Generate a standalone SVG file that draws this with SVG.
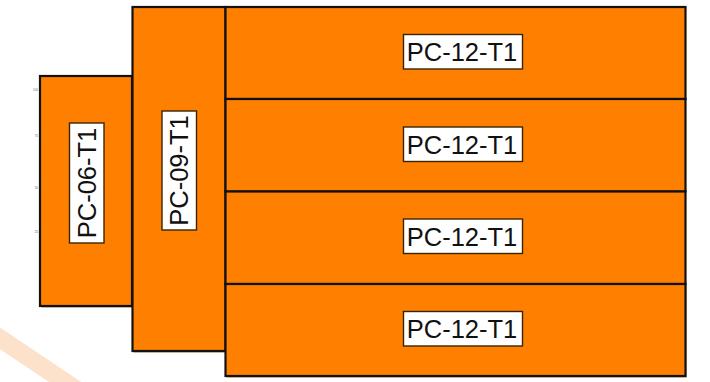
<svg xmlns="http://www.w3.org/2000/svg" width="710" height="382" viewBox="0 0 710 382">
<style>
.blk{fill:#ff8000;stroke:#111;stroke-width:2.2}
.sh{fill:#7a4300;opacity:0.6}
.lb{fill:#fff;stroke:#3a2400;stroke-width:1.4}
.tx{font-family:"Liberation Sans",Arial,sans-serif;font-size:25.5px;fill:#111;text-anchor:middle}
.tk{font-family:"Liberation Sans",Arial,sans-serif;font-size:3px;fill:#666;text-anchor:end}
</style>
<rect width="710" height="382" fill="#fff"/>
<line x1="-20" y1="325" x2="95" y2="402" stroke="#fde2cb" stroke-width="18"/>
<g id="ticks">
<text class="tk" x="38" y="91">100</text>
<text class="tk" x="38" y="137">75</text>
<text class="tk" x="38" y="189">50</text>
<text class="tk" x="38" y="233">25</text>
</g>
<g id="pc06">
<rect class="sh" x="41.5" y="77.5" width="92" height="230"/>
<rect class="blk" x="40" y="76" width="92" height="230"/>
<rect class="lb" x="69.5" y="123" width="34.5" height="120"/>
<text class="tx" transform="translate(95.5,183) rotate(-90)">PC-06-T1</text>
</g>
<g id="pc09">
<rect class="sh" x="133.5" y="8.5" width="93" height="344"/>
<rect class="blk" x="132.5" y="7" width="93" height="344"/>
<rect class="lb" x="162" y="111" width="34.5" height="119"/>
<text class="tx" transform="translate(188,170.5) rotate(-90)">PC-09-T1</text>
</g>
<g id="pc12a">
<rect class="blk" x="225.5" y="7" width="460" height="92"/>
<rect class="lb" x="403.5" y="34.5" width="119" height="34.5"/>
<text class="tx" x="462" y="61">PC-12-T1</text>
</g>
<g id="pc12b">
<rect class="blk" x="225.5" y="99" width="460" height="92.5"/>
<rect class="lb" x="403.5" y="127" width="119" height="34.5"/>
<text class="tx" x="462" y="153.5">PC-12-T1</text>
</g>
<g id="pc12c">
<rect class="blk" x="225.5" y="191.5" width="460" height="92.5"/>
<rect class="lb" x="403.5" y="219" width="119" height="34.5"/>
<text class="tx" x="462" y="245.5">PC-12-T1</text>
</g>
<g id="pc12d">
<rect class="sh" x="226.5" y="285.5" width="460" height="92"/>
<rect class="blk" x="225.5" y="284" width="460" height="92"/>
<rect class="lb" x="403.5" y="311.5" width="119" height="34.5"/>
<text class="tx" x="462" y="338">PC-12-T1</text>
</g>
<g id="connectors"/>
</svg>
